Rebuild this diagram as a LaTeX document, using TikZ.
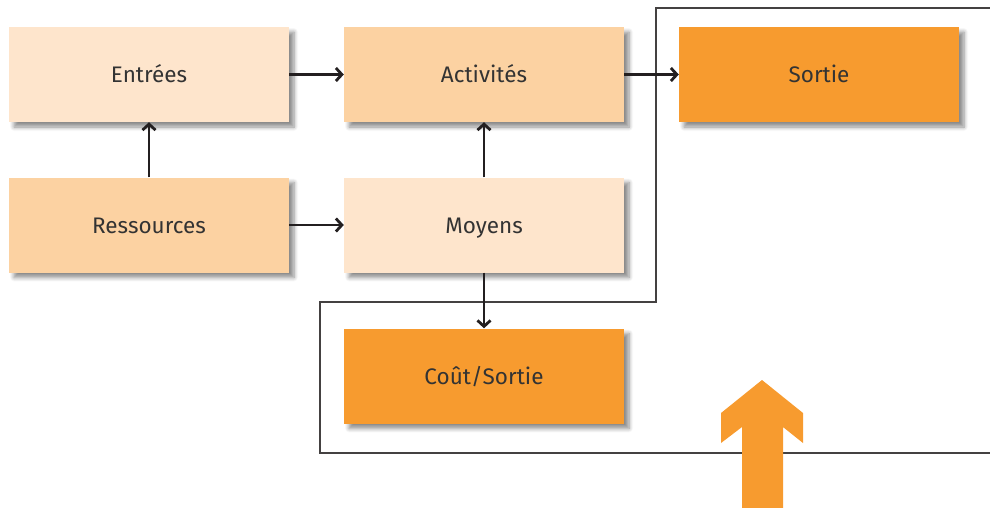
\documentclass[tikz,border=0pt]{standalone}
\usepackage{fontspec}
\setmainfont{Fira Sans}
\usetikzlibrary{arrows.meta,shadows.blur}
\definecolor{lightpeach}{HTML}{FEE5CC}
\definecolor{peach}{HTML}{FCD2A2}
\definecolor{orng}{HTML}{F79B2F}
\definecolor{ink}{HTML}{231F20}
\definecolor{txt}{HTML}{333333}
\tikzset{
  box/.style={rectangle, minimum width=280pt, minimum height=95pt, inner sep=0pt,
    text height=16pt, text depth=0pt,
    font=\fontsize{22.5}{26}\selectfont, text=txt,
    blur shadow={shadow xshift=5pt, shadow yshift=-5pt, shadow blur steps=6, shadow opacity=45, shadow blur radius=4pt}},
  conn/.style={draw=ink, line width=2.6pt, -{Straight Barb[length=6pt,width=13pt,line width=2.8pt]}},
  frame/.style={draw=ink!85, line width=2.2pt},
}
\begin{document}
\begin{tikzpicture}[x=1pt,y=-1pt]
\useasboundingbox (0,0) rectangle (990,507);
\node[box, fill=lightpeach] (entrees) at (149,74.5) {Entrées};
\node[box, fill=peach] (activites) at (484,74.5) {Activités};
\node[box, fill=orng] (sortie) at (819,74.5) {Sortie};
\node[box, fill=peach] (ressources) at (149,225) {Ressources};
\node[box, fill=lightpeach] (moyens) at (484,225) {Moyens};
\node[box, fill=orng] (cout) at (484,376) {Coût/Sortie};
\draw[frame] (992,8) -- (656,8) -- (656,302) -- (320,302) -- (320,453) -- (992,453);
\draw[conn] (entrees) -- (activites);
\draw[conn] (activites) -- (sortie);
\draw[conn] (ressources) -- (moyens);
\draw[conn] (ressources) -- (entrees);
\draw[conn] (moyens) -- (activites);
\draw[conn] (moyens) -- (cout);
\fill[orng] (762,380) -- (803,413) -- (803,443) -- (783,427) -- (783,508) -- (742,508) -- (742,427) -- (721,443) -- (721,413) -- cycle;
\end{tikzpicture}
\end{document}
